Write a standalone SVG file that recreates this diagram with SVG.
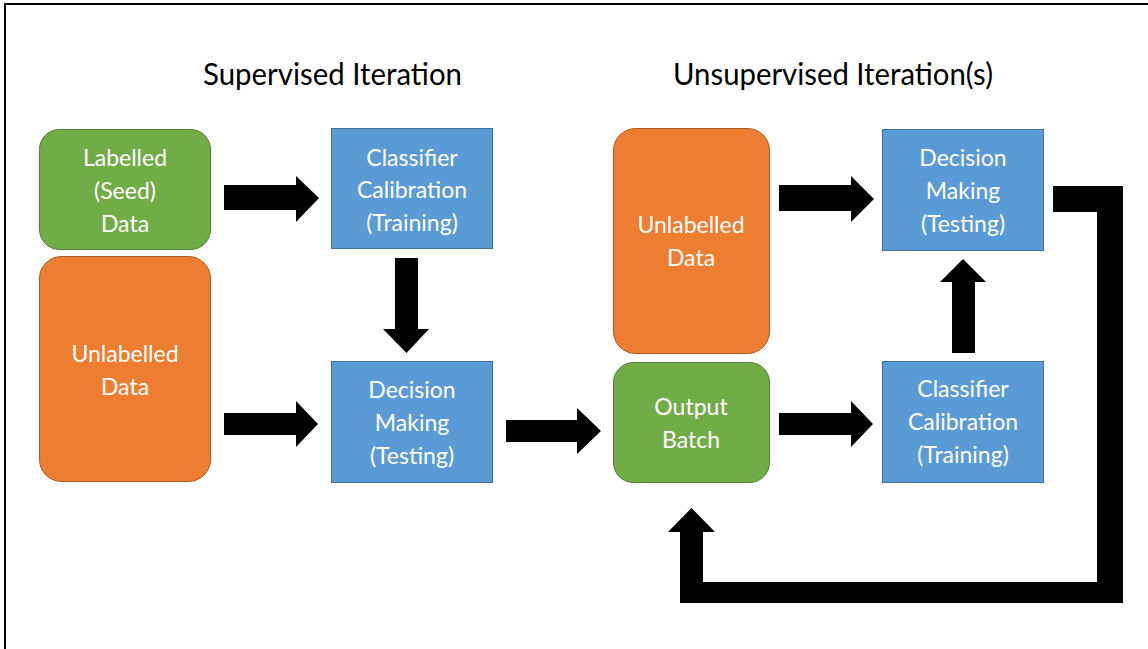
<svg xmlns="http://www.w3.org/2000/svg" width="1148" height="649" viewBox="0 0 1148 649">
<style>
.t{font-family:Lato,"Liberation Sans",sans-serif;fill:#000;font-size:30px}
.n{font-family:Lato,"Liberation Sans",sans-serif;fill:#fff;font-size:23px;text-anchor:middle}
.g{fill:#70AD47;stroke:#507E32;stroke-width:1}
.o{fill:#ED7D31;stroke:#AE5A21;stroke-width:1}
.b{fill:#5B9BD5;stroke:#41719C;stroke-width:1}
.a{fill:#000}
</style>
<rect width="1148" height="649" fill="#fff"/>
<path d="M5,660 V4 H1160" fill="none" stroke="#000" stroke-width="2"/>
<text class="t" x="203" y="85" textLength="259" lengthAdjust="spacingAndGlyphs">Supervised Iteration</text>
<text class="t" x="673" y="85" textLength="320" lengthAdjust="spacingAndGlyphs">Unsupervised Iteration(s)</text>
<g id="labelled-seed">
<rect class="g" x="39.5" y="129.5" width="171" height="120" rx="20"/>
<text class="n" x="125" y="166">Labelled</text>
<text class="n" x="125" y="199">(Seed)</text>
<text class="n" x="125" y="232">Data</text>
</g>
<g id="unlabelled-left">
<rect class="o" x="39.5" y="256.5" width="171" height="225" rx="22"/>
<text class="n" x="125" y="362">Unlabelled</text>
<text class="n" x="125" y="395">Data</text>
</g>
<g id="classifier-left">
<rect class="b" x="331.5" y="128.5" width="161" height="120"/>
<text class="n" x="412" y="166">Classifier</text>
<text class="n" x="412" y="198">Calibration</text>
<text class="n" x="412" y="231">(Training)</text>
</g>
<g id="decision-left">
<rect class="b" x="331.5" y="361.5" width="161" height="121"/>
<text class="n" x="412" y="398">Decision</text>
<text class="n" x="412" y="431">Making</text>
<text class="n" x="412" y="464">(Testing)</text>
</g>
<g id="unlabelled-right">
<rect class="o" x="613.5" y="128.5" width="156" height="225" rx="22"/>
<text class="n" x="691" y="233">Unlabelled</text>
<text class="n" x="691" y="266">Data</text>
</g>
<g id="output-batch">
<rect class="g" x="613.5" y="362.5" width="156" height="120" rx="20"/>
<text class="n" x="691" y="415">Output</text>
<text class="n" x="691" y="448">Batch</text>
</g>
<g id="decision-right">
<rect class="b" x="882.5" y="129.5" width="161" height="121"/>
<text class="n" x="963" y="166">Decision</text>
<text class="n" x="963" y="199">Making</text>
<text class="n" x="963" y="232">(Testing)</text>
</g>
<g id="classifier-right">
<rect class="b" x="882.5" y="361.5" width="161" height="121"/>
<text class="n" x="963" y="397">Classifier</text>
<text class="n" x="963" y="430">Calibration</text>
<text class="n" x="963" y="463">(Training)</text>
</g>
<g id="connectors">
<polygon class="a" points="224,185 296,185 296,176 319,198 296,222 296,210 224,210"/>
<polygon class="a" points="395,258 418,258 418,329 429,329 406.5,353 383,329 395,329"/>
<polygon class="a" points="224,413 296,413 296,401 318,424 296,447 296,435 224,435"/>
<polygon class="a" points="506,420 577,420 577,408 601,431 577,454 577,442 506,442"/>
<polygon class="a" points="779,185 851,185 851,176 874,199 851,222 851,211 779,211"/>
<polygon class="a" points="952,353 952,282 940,282 963,259 986,282 975,282 975,353"/>
<polygon class="a" points="779,413 851,413 851,401 873,424 851,447 851,435 779,435"/>
<polygon class="a" points="1053,186 1123,186 1123,603 680,603 680,532 668,532 691.5,508 715,532 703,532 703,582 1097,582 1097,212 1053,212"/>
</g>
</svg>
